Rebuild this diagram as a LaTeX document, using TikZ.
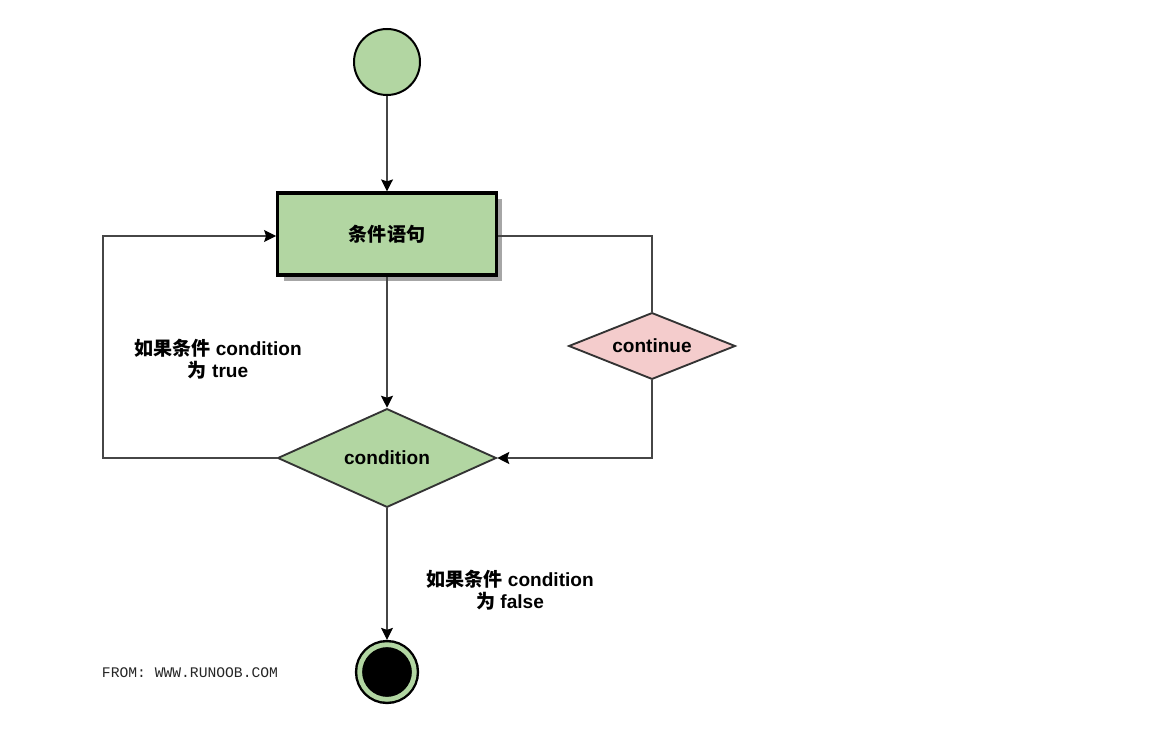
\documentclass[tikz,border=0pt]{standalone}
\usepackage{fontspec}
\setmainfont{Liberation Sans}
\setmonofont{Liberation Mono}
\newfontfamily\cjk{Noto Sans CJK SC}
\usepackage{tikz}
\usetikzlibrary{arrows.meta,shapes.geometric,shadows}
\definecolor{VerdeNodo}{RGB}{178,214,162}
\definecolor{RosaNodo}{RGB}{244,204,204}
\definecolor{GrisLinea}{RGB}{70,70,70}

\begin{document}
\begin{tikzpicture}[x=0.75pt,y=-0.75pt,>={Stealth[length=9pt,width=9pt,inset=1.5pt,color=black]},
  font=\bfseries\fontsize{14.3}{16.5}\selectfont,
  flujo/.style={draw=GrisLinea,line width=0.9pt},
  rombo/.style={diamond,draw=black!80,line width=1.4pt,inner sep=0pt,aspect=2}]
  \useasboundingbox (0,0) rectangle (1151,737);
  % inicio y fin
  \node[circle,draw=black,line width=1.5pt,fill=VerdeNodo,minimum size=49.5pt,inner sep=0pt] (inicio) at (387,62) {};
  \node[circle,fill=black,draw=black,double=VerdeNodo,double distance=3.6pt,line width=1.8pt,minimum size=41pt,inner sep=0pt,outer sep=3.6pt] (fin) at (387,672) {};
  % sentencia y decisiones
  \node[rectangle,draw=black,line width=2.4pt,fill=VerdeNodo,minimum width=164pt,minimum height=61.5pt,
    drop shadow={shadow xshift=4.5pt,shadow yshift=-4.5pt,fill=black!35,opacity=1}] (sentencia) at (387,234) {\cjk 条件语句};
  \node[rombo,fill=VerdeNodo,minimum width=164pt,minimum height=74pt] (condicion) at (387,458) {condition};
  \node[rombo,fill=RosaNodo,minimum width=125pt,minimum height=50pt] (continuar) at (652,346) {continue};
  \coordinate (vuelta) at (103,458);
  % conexiones
  \draw[flujo,->] (inicio) -- (sentencia);
  \draw[flujo,->] (sentencia) -- (condicion);
  \draw[flujo,->] (condicion) -- (fin);
  \draw[flujo,->] (condicion.west) -- (vuelta) |- ([yshift=-1.5pt]sentencia.west);
  \draw[flujo] ([yshift=-1.5pt]sentencia.east) -| (continuar.north);
  \draw[flujo,->] (continuar.south) |- (condicion.east);
  % etiquetas
  \node[align=center] (sitrue) at (218,359) {{\cjk 如果条件} condition\\{\cjk 为} true};
  \node[align=center] (sifalse) at (510,590) {{\cjk 如果条件} condition\\{\cjk 为} false};
  \node[font=\ttfamily\fontsize{11}{12}\selectfont,text=black!85] (fuente) at (190,673) {FROM: WWW.RUNOOB.COM};
\end{tikzpicture}
\end{document}
